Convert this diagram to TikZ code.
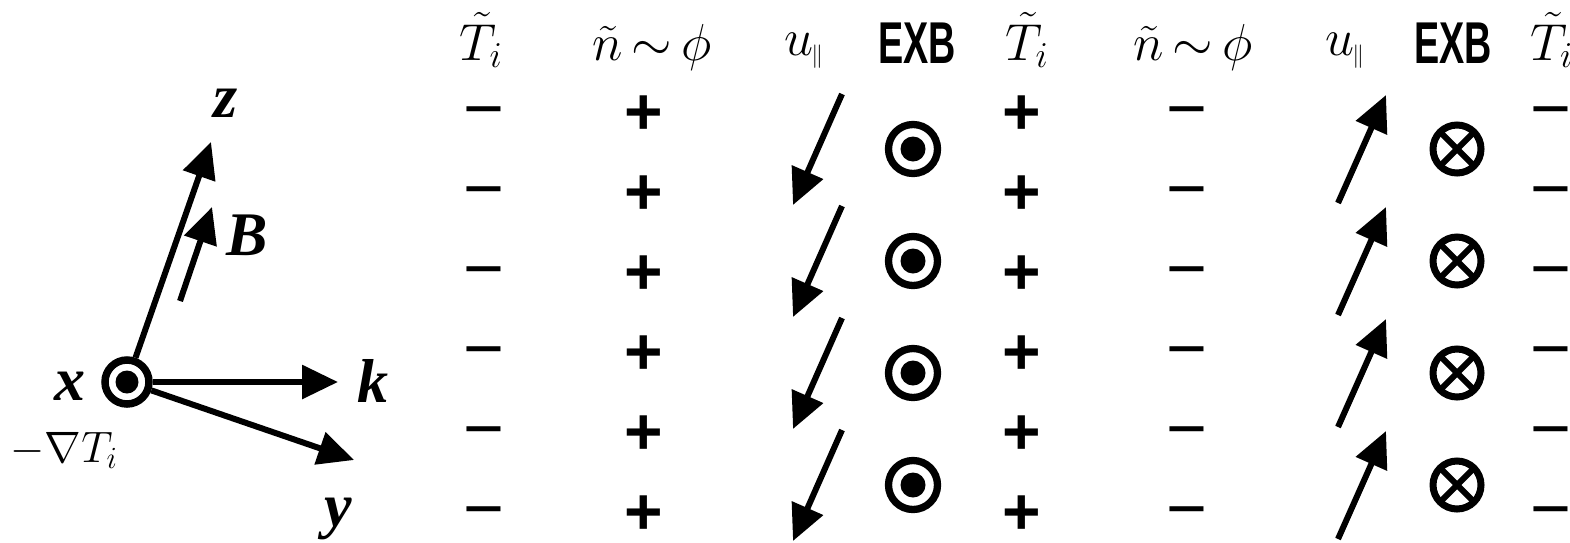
\RequirePackage{fix-cm}
\documentclass[tikz,border=0pt]{standalone}
\usepackage{fontspec}
\setmainfont{Liberation Serif}
\newfontfamily\sansf{Liberation Sans}
\usetikzlibrary{arrows.meta}
\begin{document}
\begin{tikzpicture}[x=1pt,y=-1pt,
  arr/.style={line width=6pt,-{Triangle[length=36pt,width=33pt]}},
  axlab/.style={font=\fontsize{62}{62}\selectfont\bfseries\itshape, inner sep=0pt, anchor=base},
  hdr/.style={font=\fontsize{52}{52}\selectfont, inner sep=0pt, anchor=base},
  grad/.style={font=\fontsize{44}{44}\selectfont, inner sep=0pt, anchor=base},
  exb/.style={font=\sansf\bfseries\fontsize{59}{59}\selectfont, inner sep=0pt, anchor=base},
  plussign/.style={font=\sansf\bfseries\fontsize{66}{66}\selectfont, inner sep=0pt},
  minussign/.style={font=\sansf\fontsize{70}{70}\selectfont, inner sep=0pt},
  ring/.style={circle, draw, line width=7.3pt, minimum size=49pt, inner sep=0pt},
]
\useasboundingbox (0,0) rectangle (1570,542);
\clip (0,0) rectangle (1570,542);

% ---- left axes diagram ----
\node[circle, draw, line width=7.5pt, minimum size=44pt, inner sep=0pt] (O) at (127,382) {};
\fill (O.center) circle (11.5pt);
\coordinate (ztip) at (211,142);
\coordinate (ktip) at (338,382);
\coordinate (ytip) at (354,460);
\coordinate (Btail) at (180,301);
\coordinate (Btip) at (212,207);
\draw[arr] (O) -- (ztip);
\draw[arr] (O) -- (ktip);
\draw[arr] (O) -- (ytip);
\draw[arr] (Btail) -- (Btip);
\node[axlab] (lz) at (226,117) {z};
\node[axlab] (lB) at (247,255) {B};
\node[axlab] (lx) at (70,400) {x};
\node[axlab] (lk) at (373,402) {k};
\node[axlab] (ly) at (338,526) {y};
\node[grad] (lgrad) at (64,462) {$-\nabla T_i$};

% ---- headers ----
\newcommand{\nphi}{$\tilde{n}\mkern-2mu\sim\mkern-2mu\phi$}
\newcommand{\upar}{$u_{\mkern-1mu\scalebox{0.45}{$\|$}}$}
\node[hdr] (h1) at (481,60) {$\tilde{T}_i$};
\node[hdr] (h2) at (652,60) {\nphi};
\node[hdr] (h3) at (804,55) {\upar};
\node[exb] (h4) at (917,63) {\scalebox{0.64}[1]{EXB}};
\node[hdr] (h5) at (1027,60) {$\tilde{T}_i$};
\node[hdr] (h6) at (1193,60) {\nphi};
\node[hdr] (h7) at (1345,55) {\upar};
\node[exb] (h8) at (1453,63) {\scalebox{0.64}[1]{EXB}};
\node[hdr, anchor=base west] (h9) at (1530,60) {$\tilde{T}_i$};

% ---- sign columns ----
\foreach \r in {0,...,5}{
  \node[minussign] (ma\r) at (483.5,119.5+80*\r) {−};
  \node[plussign]  (pa\r) at (643.5,115.5+80*\r) {+};
  \node[plussign]  (pb\r) at (1022,115.5+80*\r) {+};
  \node[minussign] (mb\r) at (1187,119.5+80*\r) {−};
  \node[minussign] (mc\r) at (1551,119.5+80*\r) {−};
}

% ---- arrows and circle symbols ----
\foreach \k in {0,...,3}{
  \coordinate (dt\k) at (842,94+112*\k);
  \coordinate (dh\k) at (793,205+112*\k);
  \draw[arr] (dt\k) -- (dh\k);
  \coordinate (ut\k) at (1338,203+112*\k);
  \coordinate (uh\k) at (1386,95+112*\k);
  \draw[arr] (ut\k) -- (uh\k);
  \node[ring] (e\k) at (913,149+112*\k) {};
  \fill (e\k.center) circle (12.5pt);
  \node[ring, line width=7pt, minimum size=48pt] (x\k) at (1457,149+112*\k) {};
  \draw[line width=6pt] (x\k.center) +(45:24) -- +(225:24);
  \draw[line width=6pt] (x\k.center) +(135:24) -- +(315:24);
}
\end{tikzpicture}
\end{document}
